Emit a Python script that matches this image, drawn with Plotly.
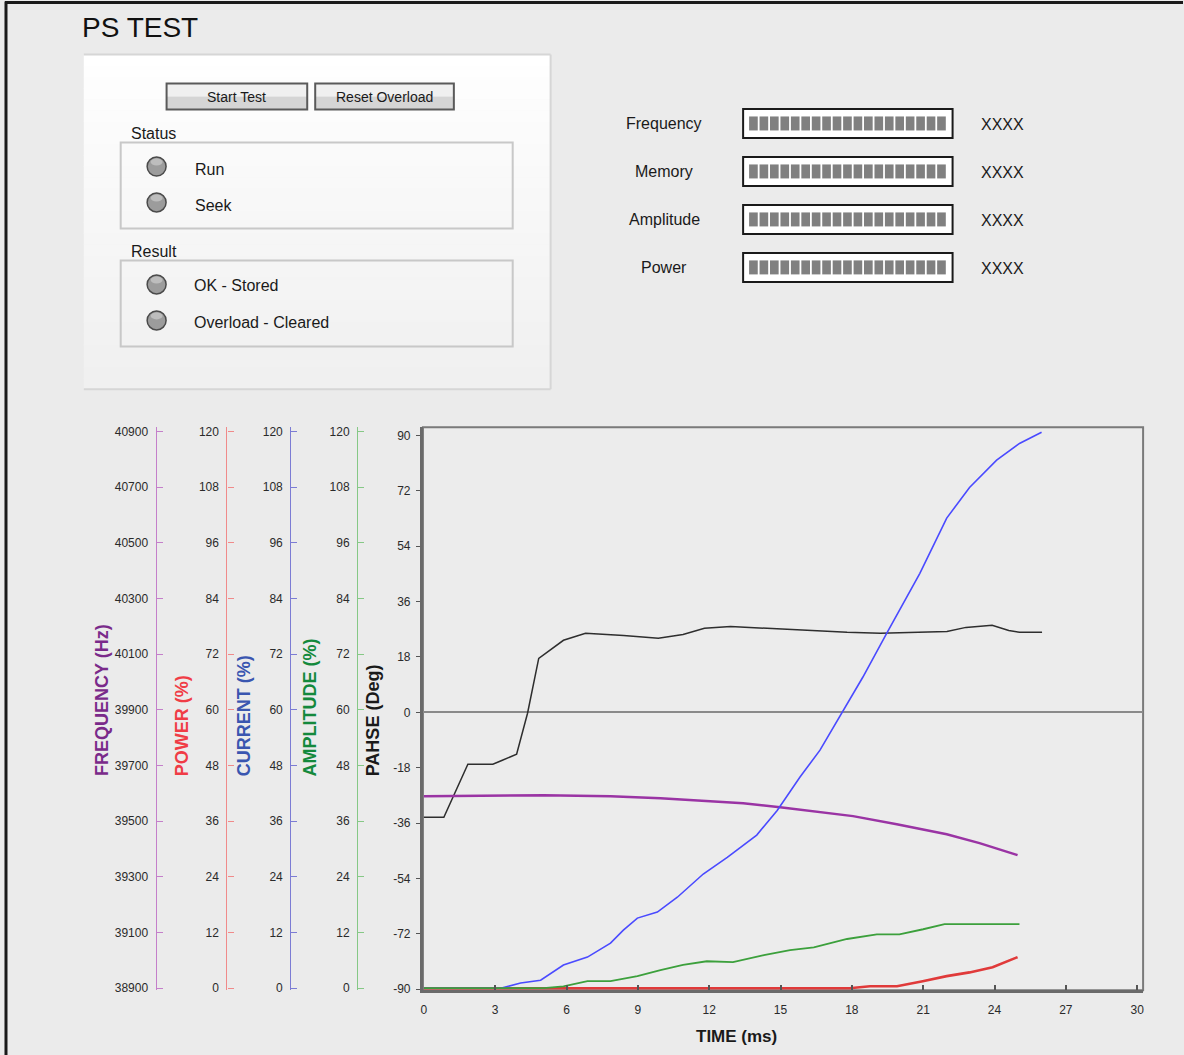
import plotly.graph_objects as go

# ---------------- data ----------------
time_phase = [0, 0.84, 1.85, 2.9, 3.3, 3.9, 4.36, 4.83, 5.87, 6.8, 8.4, 9.86, 10.9, 11.8,
              12.9, 15.0, 16.4, 17.8, 19.2, 22.0, 22.8, 23.9, 24.6, 25.05, 26.0]
phase_deg = [-34.1, -34.1, -16.9, -16.9, -15.6, -13.6, -0.3, 17.5, 23.4, 25.7, 25.0, 24.1,
             25.3, 27.3, 27.9, 27.0, 26.6, 26.0, 25.7, 26.3, 27.6, 28.3, 26.6, 26.0, 26.0]

time_current = [0, 3.23, 4.07, 4.91, 5.87, 6.88, 7.85, 8.39, 8.98, 9.82, 10.66, 11.75, 12.76,
                14.0, 14.86, 15.82, 16.66, 17.58, 18.46, 19.47, 20.86, 21.99, 22.95, 24.09,
                25.05, 25.98]
current_pct = [0, 0, 1.1, 1.7, 5.0, 6.7, 9.7, 12.5, 15.1, 16.4, 19.6, 24.6, 28.2, 33.0, 38.3,
               45.5, 51.3, 59.2, 67.0, 76.5, 89.4, 101.3, 107.9, 113.8, 117.4, 119.8]

time_freq = [0, 5.04, 7.85, 9.95, 12.04, 13.43, 14.98, 16.37, 18.05, 19.89, 21.99, 23.37, 24.97]
freq_hz = [39589, 39593, 39589, 39582, 39571, 39564, 39550, 39536, 39518, 39489, 39453,
           39421, 39378]

time_amp = [0, 5.04, 5.87, 6.88, 7.85, 8.98, 9.95, 10.9, 11.9, 13.0, 14.3, 15.4, 16.4, 17.8,
            19.05, 20.0, 21.0, 21.9, 25.05]
amp_pct = [0, 0, 0.4, 1.5, 1.5, 2.6, 3.9, 5.0, 5.8, 5.6, 7.1, 8.2, 8.8, 10.6, 11.6, 11.6,
           12.7, 13.8, 13.8]

time_power = [0, 17.9, 18.76, 19.9, 20.98, 21.99, 22.95, 23.92, 24.97]
power_pct = [0, 0, 0.4, 0.4, 1.5, 2.6, 3.4, 4.5, 6.7]

time_ticks = [0, 3, 6, 9, 12, 15, 18, 21, 24, 27, 30]
phase_ticks = [-90, -72, -54, -36, -18, 0, 18, 36, 54, 72, 90]
phase_tick_text = ["-90", "-72", "-54", "-36", "-18", "0", "18", "36", "54", "72", "90"]
pct_ticks = [0, 12, 24, 36, 48, 60, 72, 84, 96, 108, 120]
freq_ticks = [38900, 39100, 39300, 39500, 39700, 39900, 40100, 40300, 40500, 40700, 40900]

status_items = ["Run", "Seek"]
result_items = ["OK - Stored", "Overload - Cleared"]
meter_labels = ["Frequency", "Memory", "Amplitude", "Power"]
meter_values = ["XXXX", "XXXX", "XXXX", "XXXX"]

# ---------------- layout helpers ----------------
W, H = 1184, 1055
FONT = "Liberation Sans, Arial, sans-serif"
NARROW = "Liberation Sans Narrow, Liberation Sans, Arial, sans-serif"
Y_OFF, Y_SCALE = 2.5, 0.9918   # calibration of the rendered page


def px(x):
    return x / W


def py(y):
    return 1 - (y - Y_OFF) / (H * Y_SCALE)


shapes = []
annotations = []


def rect(x0, y0, x1, y1, fill="rgba(0,0,0,0)", line="rgba(0,0,0,0)", lw=0, layer="below"):
    shapes.append(dict(type="rect", xref="paper", yref="paper",
                       x0=px(x0), x1=px(x1), y0=py(y1), y1=py(y0),
                       fillcolor=fill, line=dict(color=line, width=lw), layer=layer))


def hline(x0, x1, y, color, lw, layer="below"):
    shapes.append(dict(type="line", xref="paper", yref="paper", x0=px(x0), x1=px(x1),
                       y0=py(y), y1=py(y), line=dict(color=color, width=lw), layer=layer))


def vline(x, y0, y1, color, lw, layer="below"):
    shapes.append(dict(type="line", xref="paper", yref="paper", x0=px(x), x1=px(x),
                       y0=py(y0), y1=py(y1), line=dict(color=color, width=lw), layer=layer))


def text(x, y, s, size=15, color="#1a1a1a", xanchor="left", family=FONT, bold=False,
         angle=0, yanchor="middle"):
    if bold:
        s = "<b>" + s + "</b>"
    if xanchor == "left":
        x -= 3  # compensate annotation padding
    annotations.append(dict(x=px(x), y=py(y), xref="paper", yref="paper", text=s,
                            showarrow=False, xanchor=xanchor, yanchor=yanchor,
                            textangle=angle, font=dict(size=size, color=color, family=family)))


# outer border
hline(3, W, 2, "#1a1a1a", 3)
vline(4, 1, H + 10, "#1a1a1a", 3)

# title
text(81, 27, "PS TEST", size=28, color="#111")

# control panel with soft vertical gradient
n_strips = 30
top, bot = 54, 389
for i in range(n_strips):
    y0 = top + (bot - top) * i / n_strips
    y1 = top + (bot - top) * (i + 1) / n_strips + 0.5
    g = int(255 - 15 * i / (n_strips - 1))
    rect(82, y0, 550, y1, fill=f"rgb({g},{g},{g})")
hline(82, 550, 54, "#d6d6d6", 2)
hline(82, 550, 389, "#d6d6d6", 2)
vline(550, 54, 389, "#d6d6d6", 2)


def button(x0, x1, label):
    y0, y1 = 83, 109
    rect(x0, y0, x1, (y0 + y1) / 2, fill="#f0f0f0")
    rect(x0, (y0 + y1) / 2, x1, y1, fill="#d5d5d5")
    rect(x0, y0, x1, y1, line="#5a5a5a", lw=2)
    text((x0 + x1) / 2, 97, label, size=14, color="#1a1a1a", xanchor="center", family=NARROW)


button(165, 306, "Start Test")
button(314, 453, "Reset Overload")


def led(cx, cy):
    r = 9.5
    shapes.append(dict(type="circle", xref="paper", yref="paper",
                       x0=px(cx - r), x1=px(cx + r), y0=py(cy + r), y1=py(cy - r),
                       fillcolor="#9c9c9c", line=dict(color="#4a4a4a", width=1.5),
                       layer="below"))
    shapes.append(dict(type="circle", xref="paper", yref="paper",
                       x0=px(cx - 6), x1=px(cx + 6), y0=py(cy - 1), y1=py(cy - 8),
                       fillcolor="#bdbdbd", line=dict(width=0), layer="below"))


text(130, 133, "Status", size=16)
rect(119, 142, 512, 228, line="#c8c8c8", lw=2)
for i, lab in enumerate(status_items):
    led(155, 166 + 36 * i)
    text(194, 169 + 36 * i, lab, size=16)

text(130, 251, "Result", size=16)
rect(119, 260, 512, 346, line="#c8c8c8", lw=2)
for i, lab in enumerate(result_items):
    led(155, 284 + 36 * i)
    text(193, 285 + 37 * i, lab, size=16)

# meters on the right
n_blocks = 19
for i, (lab, val) in enumerate(zip(meter_labels, meter_values)):
    yc = 123 + 48 * i
    text(664, yc, lab, size=16, xanchor="center")
    rect(743, yc - 14.5, 953, yc + 14.5, fill="#ffffff", line="#1a1a1a", lw=2)
    pitch = (948 - 749) / n_blocks
    for b in range(n_blocks):
        bx = 749 + b * pitch
        rect(bx, yc - 7, bx + pitch - 1.8, yc + 7, fill="#808080")
    text(1003, yc + 1, val, size=16, xanchor="center")

# plot frame
rect(422, 427, 1144, 990, line="#7a7a7a", lw=2)

# vertical axis titles
axis_titles = [
    (100, "FREQUENCY (Hz)", "#7a2a8a"),
    (180, "POWER (%)", "#f03c46"),
    (242, "CURRENT (%)", "#3a56b0"),
    (309, "AMPLITUDE (%)", "#14893c"),
    (372, "PAHSE (Deg)", "#1a1a1a"),
]
for x, s, c in axis_titles:
    text(x, 778, s, size=18, color=c, bold=True, angle=-90, xanchor="center",
         yanchor="bottom")

text(736, 1036, "TIME (ms)", size=17, color="#1a1a1a", bold=True, xanchor="center")

# ---------------- traces ----------------
fig = go.Figure()
fig.add_trace(go.Scatter(x=time_phase, y=phase_deg, mode="lines", name="Phase",
                         line=dict(color="#2e2e2e", width=1.5), yaxis="y"))
fig.add_trace(go.Scatter(x=time_freq, y=freq_hz, mode="lines", name="Frequency",
                         line=dict(color="#9a34a4", width=2.5), yaxis="y2"))
fig.add_trace(go.Scatter(x=time_current, y=current_pct, mode="lines", name="Current",
                         line=dict(color="#4a4aff", width=1.6), yaxis="y4"))
fig.add_trace(go.Scatter(x=time_amp, y=amp_pct, mode="lines", name="Amplitude",
                         line=dict(color="#3ca03c", width=1.8), yaxis="y5"))
fig.add_trace(go.Scatter(x=time_power, y=power_pct, mode="lines", name="Power",
                         line=dict(color="#e03a3a", width=2.6), yaxis="y3"))

dom = [py(990), py(427)]
pct_range = [-0.43, 120.86]
tickfont = dict(size=12, color="#2a2a2a", family=FONT)


def side_axis(pos, color, ticks, rng):
    return dict(anchor="free", overlaying="y", side="left", position=px(pos),
                domain=dom, range=rng, tickvals=ticks, tickformat="d", showgrid=False,
                zeroline=False, showline=True, linecolor=color, linewidth=1.2,
                ticks="inside", ticklen=6, tickcolor=color, tickwidth=1.2,
                tickfont=tickfont, ticklabelstandoff=5)


fig.update_layout(
    width=W, height=H, autosize=False,
    margin=dict(l=0, r=0, t=0, b=0),
    paper_bgcolor="#ebebeb", plot_bgcolor="#ececec",
    showlegend=False,
    font=dict(family=FONT),
    xaxis=dict(domain=[px(422), px(1144)], range=[-0.04, 30.25], tickvals=time_ticks,
               showgrid=False, zeroline=False, showline=True, linecolor="#6a6a6a",
               linewidth=3, ticks="inside", ticklen=5, tickcolor="#555", tickwidth=1.5,
               tickfont=tickfont, ticklabelstandoff=6, anchor="y"),
    yaxis=dict(domain=dom, range=[-90.3, 92.6], tickvals=phase_ticks,
               ticktext=phase_tick_text, showgrid=False,
               zeroline=True, zerolinecolor="#8a8a8a", zerolinewidth=2,
               showline=True, linecolor="#6a6a6a", linewidth=3, ticks="outside",
               ticklen=4, tickcolor="#555", tickfont=tickfont, ticklabelstandoff=3,
               anchor="x"),
    yaxis2=side_axis(154, "#c47fca", freq_ticks, [38892.8, 40914.4]),
    yaxis3=side_axis(225, "#f08a8a", pct_ticks, pct_range),
    yaxis4=side_axis(289, "#7c7cd4", pct_ticks, pct_range),
    yaxis5=side_axis(356, "#86c886", pct_ticks, pct_range),
    shapes=shapes,
    annotations=annotations,
)

fig.write_html("out.html", config={"displayModeBar": False},
               post_script="document.body.style.margin='0';document.body.style.overflow='hidden';")
